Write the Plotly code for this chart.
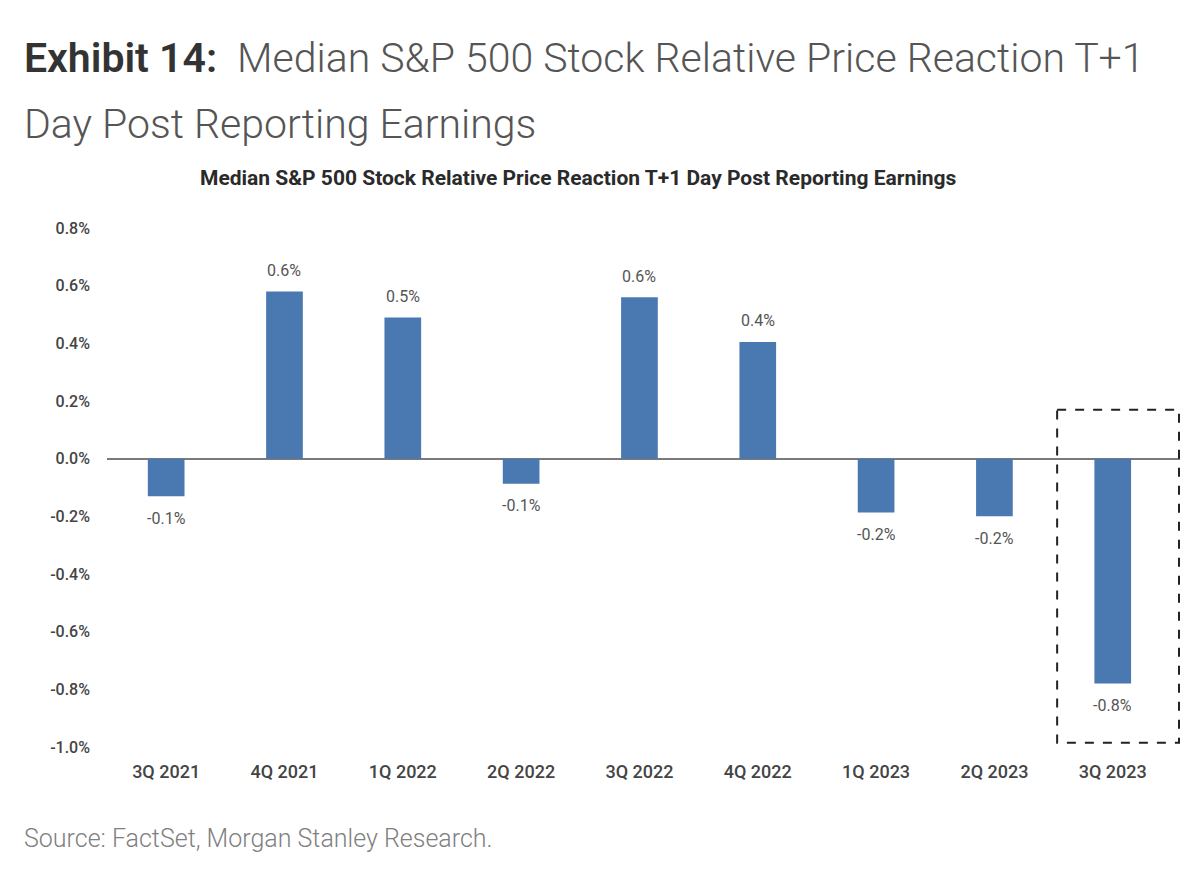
import plotly.graph_objects as go

categories = ["3Q 2021", "4Q 2021", "1Q 2022", "2Q 2022", "3Q 2022", "4Q 2022", "1Q 2023", "2Q 2023", "3Q 2023"]
values = [-0.13, 0.58, 0.49, -0.087, 0.56, 0.405, -0.187, -0.20, -0.78]
y_ticks = [-1.0, -0.8, -0.6, -0.4, -0.2, 0.0, 0.2, 0.4, 0.6, 0.8]
y_tick_labels = [f"{v:.1f}%" for v in y_ticks]

BAR = "#4a78b0"
FONT = "Roboto"

fig = go.Figure()
fig.add_trace(go.Bar(x=categories, y=values, marker=dict(color=BAR, line=dict(width=0)),
                     hoverinfo="skip"))

# data labels
for c, v in zip(categories, values):
    fig.add_annotation(x=c, y=v, text=f"{v:.1f}%", showarrow=False,
                       yshift=21 if v >= 0 else -22,
                       font=dict(family=FONT, size=16, color="#555555"))

# dashed highlight box around the last bar
fig.add_shape(type="rect", xref="x", yref="y", x0=7.53, x1=8.56, y0=0.17, y1=-0.985,
              line=dict(color="#222222", width=2, dash="dash"), fillcolor="rgba(0,0,0,0)")

# titles
fig.add_annotation(xref="paper", yref="paper", x=-0.079, y=1.3276, xanchor="left", yanchor="middle",
                   text="<span style='font-weight:600;color:#333333'>Exhibit 14:</span>  Median S&P 500 Stock Relative Price Reaction T+1",
                   showarrow=False, font=dict(family=FONT, size=41, color="#555555", weight=300))
fig.add_annotation(xref="paper", yref="paper", x=-0.079, y=1.2004, xanchor="left", yanchor="middle",
                   text="Day Post Reporting Earnings",
                   showarrow=False, font=dict(family=FONT, size=41, color="#555555", weight=300))
fig.add_annotation(xref="paper", yref="paper", x=0.439, y=1.096, xanchor="center", yanchor="middle",
                   text="<b>Median S&P 500 Stock Relative Price Reaction T+1 Day Post Reporting Earnings</b>",
                   showarrow=False, font=dict(family=FONT, size=21, color="#2a2a2a"))
fig.add_annotation(xref="paper", yref="paper", x=-0.079, y=-0.177, xanchor="left", yanchor="middle",
                   text="Source: FactSet, Morgan Stanley Research.",
                   showarrow=False, font=dict(family=FONT, size=25, color="#808080", weight=300))

fig.update_layout(
    width=1200, height=883,
    margin=dict(l=99, r=28, t=220, b=144),
    paper_bgcolor="white", plot_bgcolor="white",
    bargap=0.69, showlegend=False,
    font=dict(family=FONT),
)
fig.update_xaxes(showgrid=False, showline=False, ticks="", ticklabelstandoff=12,
                 tickfont=dict(family=FONT, size=18, color="#444444", weight=500))
fig.update_yaxes(range=[-1.0, 0.8], tickvals=y_ticks, ticktext=y_tick_labels,
                 showgrid=False, showline=False, ticks="", ticklabelstandoff=16,
                 zeroline=True, zerolinecolor="#7a7a7a", zerolinewidth=2,
                 tickfont=dict(family=FONT, size=16, color="#444444", weight=500))

fig.write_html("out.html")
